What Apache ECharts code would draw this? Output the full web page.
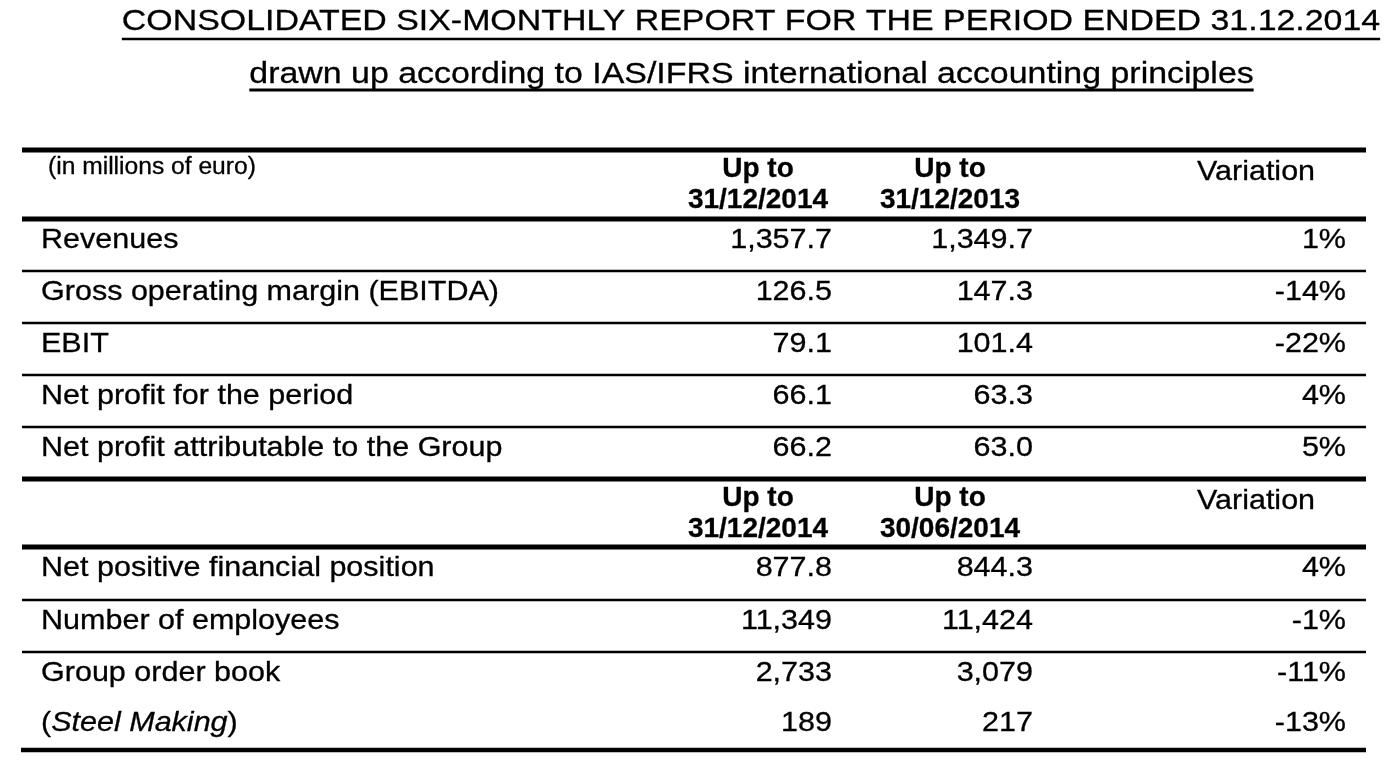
<!DOCTYPE html>
<html>
<head>
<meta charset="UTF-8">
<title>Consolidated six-monthly report</title>
<script src="https://cdn.jsdelivr.net/npm/echarts@6/dist/echarts.min.js"></script>
<style>
html, body { margin: 0; padding: 0; background: #fff; }
#main { width: 1396px; height: 762px; }
</style>
</head>
<body>
	<div id="main"></div>
	<script>
	// data
	var titleText = 'CONSOLIDATED SIX-MONTHLY REPORT FOR THE PERIOD ENDED 31.12.2014';
	var subtitleText = 'drawn up according to IAS/IFRS international accounting principles';
	var unitText = '(in millions of euro)';
	var headPrefix = 'Up to';
	var variationText = 'Variation';

	var incomeDates = ['31/12/2014', '31/12/2013'];
	var incomeLabels = ['Revenues', 'Gross operating margin (EBITDA)', 'EBIT',
		'Net profit for the period', 'Net profit attributable to the Group'];
	var incomeCurrent = [1357.7, 126.5, 79.1, 66.1, 66.2];
	var incomePrevious = [1349.7, 147.3, 101.4, 63.3, 63.0];
	var incomeVariation = [1, -14, -22, 4, 5];
	var incomeDecimals = [1, 1, 1, 1, 1];

	var balanceDates = ['31/12/2014', '30/06/2014'];
	var balanceLabels = ['Net positive financial position', 'Number of employees',
		'Group order book', '({i|Steel Making})'];
	var balanceCurrent = [877.8, 11349, 2733, 189];
	var balancePrevious = [844.3, 11424, 3079, 217];
	var balanceVariation = [4, -1, -11, -13];
	var balanceDecimals = [1, 0, 0, 0];

	// layout
	var FONT = "'Liberation Sans', Arial, sans-serif";
	var STRETCH = 1.09;       // source text is slightly wide
	var TITLE_STRETCH = 1.13;
	var X0 = 22, X1 = 1366;
	var labelX = 41;
	var colRight = [832, 1033, 1346];
	var headCenter = [758, 950];
	var varCenter = 1256;

	function fmt(v, d) {
		var s = v.toFixed(d);
		var parts = s.split('.');
		var neg = parts[0].charAt(0) == '-';
		var n = neg ? parts[0].substr(1) : parts[0];
		n = n.replace(/\B(?=(\d{3})+(?!\d))/g, ',');
		return (neg ? '-' : '') + n + (parts.length > 1 ? '.' + parts[1] : '');
	}

	function measure(str, font) {
		var ctx = document.createElement('canvas').getContext('2d');
		ctx.font = font;
		return ctx.measureText(str).width;
	}

	var elements = [];

	function addText(str, x, y, size, align, bold, stretch) {
		elements.push({
			type : 'text',
			x : x,
			y : y,
			scaleX : stretch || STRETCH,
			style : {
				text : str,
				fill : '#000',
				stroke : '#000',
				lineWidth : 0.3,
				fontSize : size,
				fontFamily : FONT,
				fontWeight : bold ? 'bold' : 'normal',
				textAlign : align,
				textVerticalAlign : 'middle',
				rich : {
					i : { fontSize : size, fontFamily : FONT, fontStyle : 'italic', fill : '#000' }
				}
			}
		});
	}

	function addLine(y, w, x0) {
		elements.push({
			type : 'line',
			shape : { x1 : x0 || X0, y1 : y, x2 : X1, y2 : y },
			style : { stroke : '#000', lineWidth : w }
		});
	}

	function addUnderlined(str, cx, cy, size, lineY, lineW) {
		addText(str, cx, cy, size, 'center', false, TITLE_STRETCH);
		var w = measure(str, size + 'px ' + FONT) * TITLE_STRETCH;
		elements.push({
			type : 'line',
			shape : { x1 : cx - w / 2, y1 : lineY, x2 : cx + w / 2, y2 : lineY },
			style : { stroke : '#000', lineWidth : lineW }
		});
	}

	function addHeader(top, dates, withUnit) {
		if (withUnit) addText(unitText, 48, top + 18, 23, 'left', false, 1.07);
		for (var i = 0; i < dates.length; i++) {
			addText(headPrefix, headCenter[i], top + 19.5, 28, 'center', true, 1.0);
			addText(dates[i], headCenter[i], top + 50.5, 28, 'center', true, 1.0);
		}
		addText(variationText, varCenter, top + 22.5, 28, 'center', false);
	}

	function addRows(top, heights, labels, cur, prev, vari, dec, lines) {
		var y = top;
		for (var i = 0; i < labels.length; i++) {
			var cy = y + 21.5;
			addText(labels[i], labelX, cy, 28, 'left', false);
			addText(fmt(cur[i], dec[i]), colRight[0], cy, 28, 'right', false);
			addText(fmt(prev[i], dec[i]), colRight[1], cy, 28, 'right', false);
			addText(vari[i] + '%', colRight[2], cy, 28, 'right', false);
			y += heights[i];
			if (lines[i]) addLine(y, 2.5);
		}
	}

	// titles
	addUnderlined(titleText, 751, 22, 30, 39, 2.5);
	addUnderlined(subtitleText, 751.5, 74.5, 30, 90, 3);

	// first block: income statement
	addLine(150, 5);
	addHeader(150, incomeDates, true);
	addLine(219, 5);
	addRows(219, [52, 52, 52, 52, 52], incomeLabels, incomeCurrent, incomePrevious,
		incomeVariation, incomeDecimals, [true, true, true, true, false]);

	// second block: financial position
	addLine(479, 5);
	addHeader(479, balanceDates, false);
	addLine(547, 5);
	addRows(547, [53, 52, 50, 48], balanceLabels, balanceCurrent, balancePrevious,
		balanceVariation, balanceDecimals, [true, true, false, false]);
	addLine(750, 4.5, 21);

	var chart = echarts.init(document.getElementById('main'));
	chart.setOption({
		backgroundColor : '#fff',
		animation : false,
		graphic : { elements : elements }
	});
	</script>
</body>
</html>
